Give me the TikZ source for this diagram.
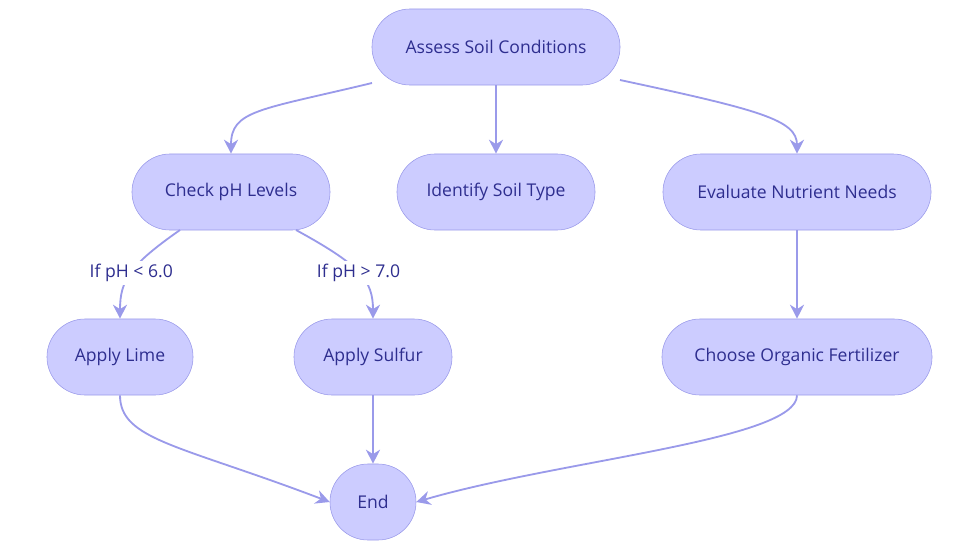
\documentclass[tikz,border=0pt]{standalone}
\usepackage{fontspec}
\setmainfont{Open Sans}
\usetikzlibrary{positioning,arrows.meta}
\definecolor{boxfill}{HTML}{CCCCFF}
\definecolor{boxline}{HTML}{9A9AEA}
\definecolor{boxtext}{HTML}{2E2E8F}
\begin{document}
\begin{tikzpicture}[x=0.025cm,y=-0.025cm,
  stage/.style={draw=boxline, fill=boxfill, rounded corners=0.95cm, minimum height=1.9cm,
    text=boxtext, font=\fontsize{12.5}{14}\selectfont, inner sep=0pt},
  link/.style={draw=boxline, line width=1.3pt, -{Stealth[length=10pt,width=10pt]}},
  cond/.style={text=boxtext, font=\fontsize{12.5}{14}\selectfont, fill=white, inner sep=2pt}]
\useasboundingbox (0,0) rectangle (980,553);
\node[stage, minimum width=6.2cm] (assess) at (496,47) {Assess Soil Conditions};
\node[stage, minimum width=4.95cm] (ph) at (231,192) {Check pH Levels};
\node[stage, minimum width=4.95cm] (type) at (496,192) {Identify Soil Type};
\node[stage, minimum width=6.7cm] (nutr) at (797,192) {Evaluate Nutrient Needs};
\node[stage, minimum width=3.65cm] (lime) at (120,357) {Apply Lime};
\node[stage, minimum width=3.95cm] (sulf) at (373,357) {Apply Sulfur};
\node[stage, minimum width=6.75cm] (fert) at (797,357) {Choose Organic Fertilizer};
\node[stage, minimum width=2.15cm] (end) at (373,502) {End};
% top row
\coordinate (al) at (372,83);
\coordinate (ar) at (620,80);
\draw[link] (al) .. controls (260,110) and (231,110) .. (ph.north);
\draw[link] (assess.south) -- (type.north);
\draw[link] (ar) .. controls (760,110) and (797,120) .. (nutr.north);
% pH branches
\coordinate (phl) at (180,230);
\coordinate (phr) at (296,230);
\draw[link] (phl) .. controls (130,265) and (120,280) .. (lime.north)
  node[cond, pos=0.5] {If pH < 6.0};
\draw[link] (phr) .. controls (360,265) and (373,280) .. (sulf.north)
  node[cond, pos=0.5] {If pH > 7.0};
\draw[link] (nutr.south) -- (fert.north);
% to end
\draw[link] (lime.south) .. controls (120,440) and (180,445) .. (end.west);
\draw[link] (sulf.south) -- (end.north);
\draw[link] (fert.south) .. controls (797,440) and (560,460) .. (end.east);
\end{tikzpicture}
\end{document}
